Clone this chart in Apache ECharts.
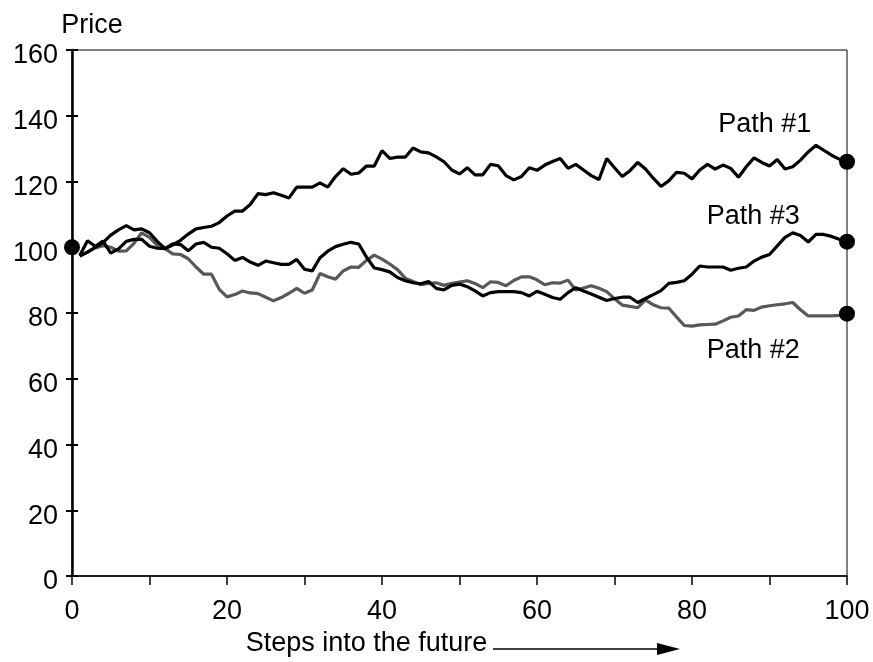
<!DOCTYPE html>
<html>
<head>
<meta charset="utf-8">
<script src="https://cdn.jsdelivr.net/npm/echarts@6/dist/echarts.min.js"></script>
<style>
html,body{margin:0;padding:0;background:#fff;}
#chart{width:873px;height:662px;}
</style>
</head>
<body>
<div id="chart"></div>
<script>
var steps = [1,2,3,4,5,6,7,8,9,10,11,12,13,14,15,16,17,18,19,20,21,22,23,24,25,26,27,28,29,30,31,32,33,34,35,36,37,38,39,40,41,42,43,44,45,46,47,48,49,50,51,52,53,54,55,56,57,58,59,60,61,62,63,64,65,66,67,68,69,70,71,72,73,74,75,76,77,78,79,80,81,82,83,84,85,86,87,88,89,90,91,92,93,94,95,96,97,98,99,100];

var path1 = [97.3,98.5,100,101.4,103.7,105.3,106.6,105.3,105.6,104.4,
  101.8,99.6,100.7,102.1,104,105.6,106,106.4,107.5,109.5,
  111,111,113,116.3,116,116.6,115.8,115,118.3,118.3,
  118.3,119.6,118.3,121.5,123.9,122.2,122.6,124.7,124.7,129.4,
  127,127.4,127.4,130.2,129,128.7,127.5,126,123.5,122.3,
  124.2,122,122,125.2,124.8,121.8,120.5,121.5,124.2,123.4,
  125,126.1,127,124,125.2,123.5,121.8,120.6,127,124.2,
  121.5,123.3,125.8,123.8,121,118.5,120.2,122.8,122.5,120.8,
  123.5,125.2,123.8,125,124,121.3,124.5,127.2,125.8,124.7,
  126.7,123.8,124.5,126.5,129,131,129.5,128,126.8,126];

var path2 = [97.3,98.5,99.8,100.5,100,98.8,98.9,101.2,104.4,103,
  100.6,99.6,98,97.8,96.5,94,91.8,91.8,87.2,84.9,
  85.6,86.7,86.1,85.9,84.8,83.7,84.7,86,87.5,86,
  87,92,91,90.3,92.8,94,93.9,96,97.6,96.4,
  94.9,93.2,90.6,89.6,88.6,89,89.2,88.4,89,89.4,
  89.8,89,87.7,89.5,89.3,88.3,89.9,91,91,90.1,
  88.6,89.2,89.1,90,87,87.6,88.3,87.5,86.5,84.3,
  82.4,82,81.6,84,82.5,81.6,81.5,78.8,76.2,76,
  76.4,76.5,76.6,77.6,78.7,79.1,81,80.8,81.8,82.2,
  82.5,82.8,83.2,81,79.1,79.1,79.1,79.1,79.3,79.8];

var path3 = [97.5,102,100.3,101.9,98.2,99.5,101.8,102.4,102.4,100.3,
  99.7,99.6,101,100.8,98.9,101,101.5,100,99.7,98,
  96,96.9,95.5,94.5,95.8,95.3,94.8,94.8,96.3,93.3,
  92.8,96.8,98.8,100.2,100.9,101.5,101,97,93.7,93.2,
  92.5,90.8,89.8,89.2,88.9,89.6,87.5,87,88.4,88.8,
  88,86.7,85.2,86.2,86.5,86.5,86.5,86.2,85.2,86.6,
  85.7,84.7,84.2,86.2,87.7,86.7,85.8,84.8,83.8,84.4,
  84.8,84.8,83.2,84.4,85.6,86.8,89,89.3,89.8,91.8,
  94.3,94,94,94,93,93.6,94,95.8,97,97.8,
  100.4,103,104.4,103.6,101.6,103.9,103.9,103.3,102.4,101.7];

var startStep = 0;
var startPrice = 100;

var pathNames = ['Path #1', 'Path #2', 'Path #3'];
var labelSteps = [89.4, 87.9, 87.9];
var labelPrices = [137.3, 68.7, 109.3];

var yTicks = [0, 20, 40, 60, 80, 100, 120, 140, 160];
var xTicks = [0, 20, 40, 60, 80, 100];

var FONT = '"Liberation Sans", Arial, Helvetica, sans-serif';
var FS = 27;

function pairs(vals) { return steps.map(function (s, i) { return [s, vals[i]]; }); }
var lastStep = steps[steps.length - 1];

var chart = echarts.init(document.getElementById('chart'), null, { renderer: 'canvas' });

var option = {
  backgroundColor: '#fff',
  animation: false,
  textStyle: { fontFamily: FONT },
  grid: { left: 72, right: 26, top: 50, bottom: 83, show: true, borderColor: '#000', borderWidth: 1, containLabel: false },
  xAxis: {
    type: 'value', min: 0, max: 100, interval: 10,
    name: 'Steps into the future', nameLocation: 'middle', nameGap: 54,
    nameTextStyle: { fontSize: FS, color: '#000', fontFamily: FONT, padding: [0, 186, 0, 0], verticalAlign: 'top' },
    axisLine: { show: true, lineStyle: { color: '#000', width: 1.5 } },
    axisTick: { show: true, length: 9, lineStyle: { color: '#000', width: 1.5 } },
    axisLabel: { fontSize: FS, color: '#000', fontFamily: FONT, margin: 22,
      formatter: function (v) { return xTicks.indexOf(v) >= 0 ? String(v) : ''; } },
    splitLine: { show: false }
  },
  yAxis: [{
    type: 'value', min: 0, max: 160, interval: 20, position: 'left',
    name: 'Price', nameLocation: 'end', nameGap: 11,
    nameTextStyle: { fontSize: FS, color: '#000', fontFamily: FONT, align: 'center', padding: [0, 0, 0, 40] },
    axisLine: { show: true, lineStyle: { color: '#000', width: 2.5 } },
    axisTick: { show: true, length: 6, lineStyle: { color: '#000', width: 2 } },
    axisLabel: { color: '#000', margin: 14,
      formatter: function (v) { return yTicks.indexOf(v) >= 0 ? '{t|' + v + '}' : ''; },
      rich: { t: { fontSize: FS, color: '#000', fontFamily: FONT, padding: [12, 0, 0, 0] } } },
    splitLine: { show: false }
  }, {
    type: 'value', min: 0, max: 160, interval: 20, position: 'left',
    axisLine: { show: false },
    axisTick: { show: true, inside: true, length: 6, lineStyle: { color: '#000', width: 2 } },
    axisLabel: { show: false },
    splitLine: { show: false }
  }],
  series: [
    { name: pathNames[1], type: 'line', data: pairs(path2), showSymbol: false, symbol: 'none',
      lineStyle: { color: '#585858', width: 3.2 }, z: 2 },
    { name: pathNames[2], type: 'line', data: pairs(path3), showSymbol: false, symbol: 'none',
      lineStyle: { color: '#000', width: 3.2 }, z: 3 },
    { name: pathNames[0], type: 'line', data: pairs(path1), showSymbol: false, symbol: 'none',
      lineStyle: { color: '#000', width: 3.2 }, z: 3 },
    { type: 'scatter', symbol: 'circle', symbolSize: 16, itemStyle: { color: '#000', opacity: 1 }, z: 5,
      data: [[startStep, startPrice], [lastStep, path1[path1.length - 1]], [lastStep, path2[path2.length - 1]], [lastStep, path3[path3.length - 1]]] },
    { type: 'scatter', symbolSize: 0, z: 6, silent: true, itemStyle: { opacity: 1 },
      data: pathNames.map(function (n, i) { return { name: n, value: [labelSteps[i], labelPrices[i]] }; }),
      label: { show: true, position: 'inside', formatter: '{b}', color: '#000', opacity: 1, fontSize: FS, fontFamily: FONT } }
  ],
  graphic: [
    { type: 'line', shape: { x1: 493, y1: 649, x2: 658, y2: 649 }, style: { stroke: '#000', lineWidth: 1.5 } },
    { type: 'polygon', shape: { points: [[657, 643], [680, 649], [657, 655]] }, style: { fill: '#000' } }
  ]
};
chart.setOption(option);
</script>
</body>
</html>
